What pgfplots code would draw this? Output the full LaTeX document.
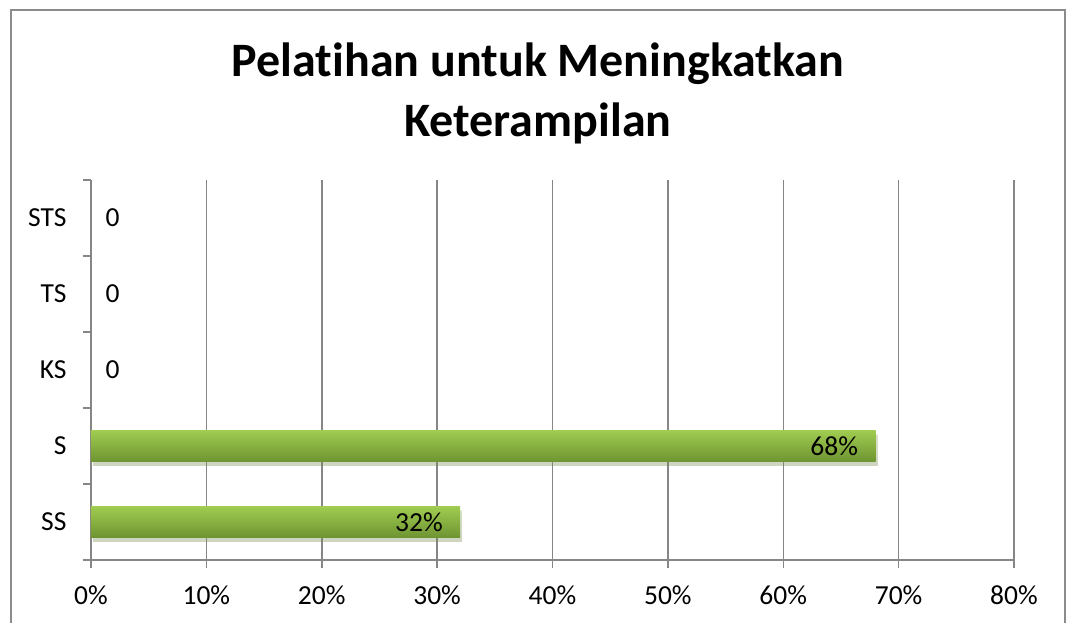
\documentclass[border=0pt]{standalone}
\usepackage{pgfplots}
\pgfplotsset{compat=1.18}
\usepackage{fontspec}
\setmainfont{Carlito}[RawFeature={-liga;-clig;-dlig}]
\usetikzlibrary{shadows}
\definecolor{gridgray}{RGB}{134,134,134}
\definecolor{framegray}{RGB}{140,140,140}
\definecolor{bartop}{RGB}{160,204,80}
\definecolor{barbot}{RGB}{110,148,50}
\begin{document}
\begin{tikzpicture}[x=1pt,y=1pt]
\useasboundingbox (0,0) rectangle (1066,622);
\draw[framegray, line width=1.5pt] (11,-20) -- (11,612) -- (1065,612) -- (1065,-20);
\node[font=\fontsize{48}{60}\selectfont\bfseries, align=center] at (538,529) {Pelat\kern0pt ihan untuk Meningkatkan\\Keterampilan};
\begin{axis}[
  at={(91pt,62pt)}, anchor=south west,
  scale only axis, width=923pt, height=380pt,
  xbar, bar width=31pt,
  xmin=0, xmax=80, ymin=-0.5, ymax=4.5,
  axis x line*=bottom, axis y line*=left,
  axis line style={gridgray, line width=1.5pt},
  xtick={0,10,...,80},
  xticklabel={\pgfmathprintnumber{\tick}\%},
  /pgf/number format/assume math mode=true,
  ticklabel style={font=\fontsize{27.5}{30}\selectfont},
  xticklabel style={yshift=-14pt},
  tick align=outside, major tick length=8pt,
  tick style={gridgray, line width=1.5pt},
  xmajorgrids, grid style={gridgray, line width=1.5pt},
  ytick={-0.5,0.5,...,4.5}, yticklabels={},
  extra y ticks={0,1,2,3,4},
  extra y tick labels={SS,S,KS,TS,STS},
  extra y tick style={major tick length=0pt, grid=none, yticklabel style={xshift=-21pt}},
  clip=false,
  every node near coord/.append style={font=\fontsize{27.5}{30}\selectfont, text=black},
]
\addplot[bar shift=0pt, draw=none, top color=bartop, bottom color=barbot,
  drop shadow={shadow xshift=2pt, shadow yshift=-4pt, opacity=0.2},
  point meta=x,
  nodes near coords={\pgfmathprintnumber{\pgfplotspointmeta}\%},
  nodes near coords style={anchor=east, xshift=-14pt}]
  coordinates {(32,0)};
\addplot[bar shift=0pt, draw=none, top color=bartop, bottom color=barbot,
  drop shadow={shadow xshift=2pt, shadow yshift=-4pt, opacity=0.2},
  point meta=x,
  nodes near coords={\pgfmathprintnumber{\pgfplotspointmeta}\%},
  nodes near coords style={anchor=east, xshift=-14pt}]
  coordinates {(68,1)};
\addplot[bar shift=0pt, draw=none, fill=none,
  point meta=x,
  nodes near coords={0},
  nodes near coords style={anchor=west, xshift=11pt}]
  coordinates {(0,2) (0,3) (0,4)};
\end{axis}
\end{tikzpicture}
\end{document}
